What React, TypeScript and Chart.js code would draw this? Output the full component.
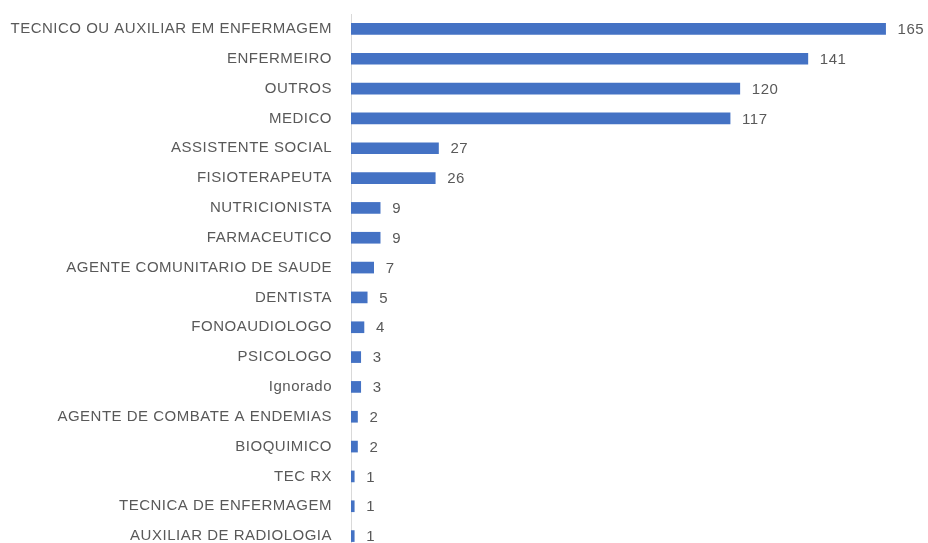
import React, { useEffect, useRef } from "react";
import { Chart, registerables } from "chart.js";

Chart.register(...registerables);

const categories = [
  "TECNICO OU AUXILIAR EM ENFERMAGEM",
  "ENFERMEIRO",
  "OUTROS",
  "MEDICO",
  "ASSISTENTE SOCIAL",
  "FISIOTERAPEUTA",
  "NUTRICIONISTA",
  "FARMACEUTICO",
  "AGENTE COMUNITARIO DE SAUDE",
  "DENTISTA",
  "FONOAUDIOLOGO",
  "PSICOLOGO",
  "Ignorado",
  "AGENTE DE COMBATE A ENDEMIAS",
  "BIOQUIMICO",
  "TEC RX",
  "TECNICA DE ENFERMAGEM",
  "AUXILIAR DE RADIOLOGIA",
];

const counts = [165, 141, 120, 117, 27, 26, 9, 9, 7, 5, 4, 3, 3, 2, 2, 1, 1, 1];

const FONT = "'Liberation Sans', Arial, sans-serif";
const TEXT = "#595959";

const spacingPlugin = {
  id: "spacing",
  beforeDraw(chart: any) {
    chart.ctx.letterSpacing = "0.5px";
  },
};

const valueLabels = {
  id: "valueLabels",
  afterDatasetsDraw(chart: any) {
    const ctx = chart.ctx;
    const meta = chart.getDatasetMeta(0);
    ctx.save();
    ctx.letterSpacing = "0.5px";
    ctx.font = `15px ${FONT}`;
    ctx.fillStyle = TEXT;
    ctx.textAlign = "left";
    ctx.textBaseline = "middle";
    meta.data.forEach((bar: any, i: number) => {
      ctx.fillText(String(counts[i]), bar.x + 12, bar.y + 1);
    });
    ctx.restore();
  },
};

export default function App() {
  const ref = useRef<HTMLCanvasElement>(null);
  useEffect(() => {
    if (!ref.current) return;
    const chart = new Chart(ref.current, {
      type: "bar",
      data: {
        labels: categories,
        datasets: [
          {
            data: counts,
            backgroundColor: "#4472C4",
            borderWidth: 0,
            barThickness: 11,
          },
        ],
      },
      plugins: [spacingPlugin, valueLabels],
      options: {
        indexAxis: "y",
        animation: false,
        responsive: false,
        devicePixelRatio: 1,
        layout: { padding: { top: 14, bottom: 6, left: 0, right: 10 } },
        plugins: { legend: { display: false }, tooltip: { enabled: false } },
        scales: {
          x: { display: false, min: 0, max: 175 },
          y: {
            afterFit(scale: any) {
              scale.width = 351;
            },
            grid: {
              display: true,
              drawOnChartArea: false,
              drawTicks: true,
              tickLength: 19,
              color: "rgba(0,0,0,0)",
            },
            border: { display: true, color: "#d9d9d9", width: 1 },
            ticks: {
              padding: 0,
              color: TEXT,
              font: { family: FONT, size: 15 },
              autoSkip: false,
            },
          },
        },
      },
    });
    return () => chart.destroy();
  }, []);
  return (
    <div
      style={{
        position: "fixed",
        left: 0,
        top: 0,
        width: 928,
        height: 543,
        overflow: "hidden",
        background: "#fff",
      }}
    >
      <canvas ref={ref} width={928} height={560} style={{ display: "block" }} />
    </div>
  );
}
